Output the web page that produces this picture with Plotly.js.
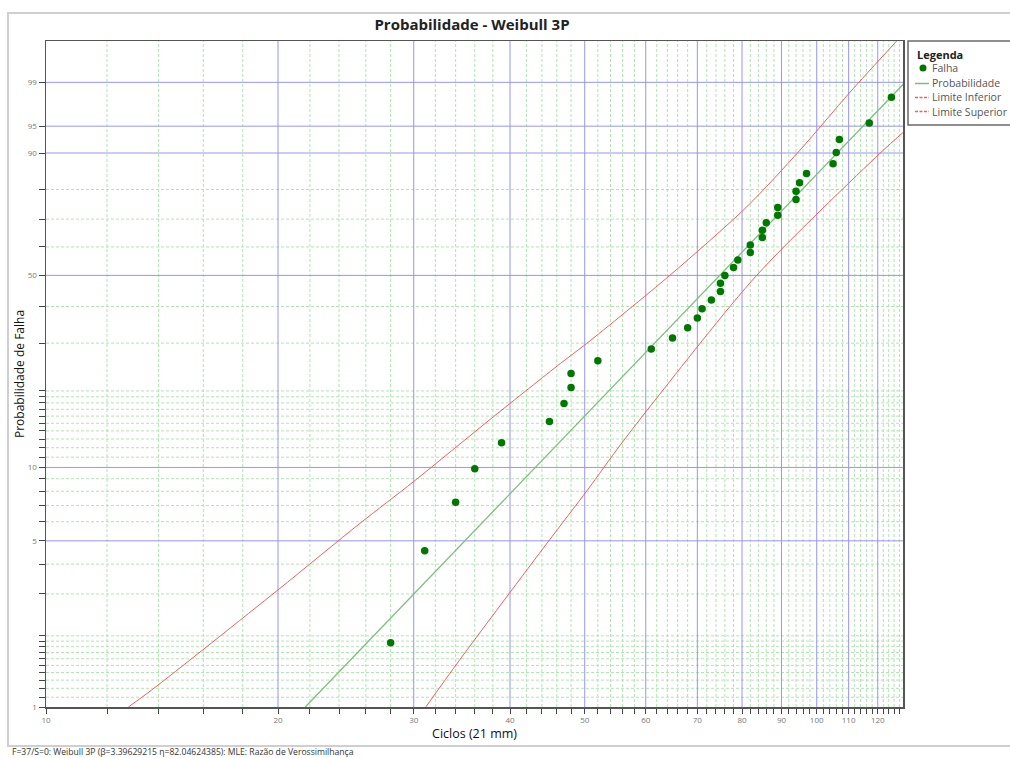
<!DOCTYPE html>
<html>
<head>
<meta charset="utf-8">
<script src="https://cdn.plot.ly/plotly-3.0.1.min.js"></script>
<style>
html,body{margin:0;padding:0;background:#fff;}
#chart{width:1010px;height:758px;}
</style>
</head>
<body>
<div id="chart"></div>
<script>
// ---- data ----
const cycles = [28,31,34,36,39,45,47,48,48,52,61,65,68,70,71,73,75,75,76,78,79,82,82,85,85,86,89,89,94,94,95,97,105,106,107,117,125];
const failProb = [1.87,4.55,7.22,9.89,12.57,15.24,17.91,20.59,23.26,25.94,28.61,31.28,33.96,36.63,39.31,41.98,44.65,47.33,50.00,52.67,55.35,58.02,60.70,63.37,66.04,68.72,71.39,74.06,76.74,79.41,82.09,84.76,87.43,90.11,92.78,95.45,98.13];

const fitCycles = [21.7, 130.2];
const fitProb = [1.0, 99.0];

const lowerCycles = [31.1, 34.4, 44.7, 50.4, 55.6, 61.7, 83.6, 120.8, 130.2];
const lowerProb = [1.0, 1.58, 4.90, 8.09, 12.30, 18.45, 50.05, 89.93, 94.3];

const upperCycles = [12.79, 13.71, 20.0, 25.55, 29.97, 38.06, 46.5, 50.3, 64.5, 81.1, 95.1, 110.5, 127.0];
const upperProb = [1.0, 1.18, 3.12, 5.91, 8.75, 15.90, 25.34, 29.93, 50.05, 74.25, 90.61, 98.48, 99.9];

const xTickVals = [10,20,30,40,50,60,70,80,90,100,110,120];
const xTickText = ['10','20','30','40','50','60','70','80','90','100','110','120'];
const xMinorVals = [12,14,16,18,22,24,26,28,32,34,36,38,42,44,46,48,52,54,56,58,62,64,66,68,72,74,76,78,82,84,86,88,92,94,96,98,102,104,106,108,112,114,116,118,122,124,126,128];

const yTickPct = [1,5,10,50,90,95,99];
const yTickText = ['1','5','10','50','90','95','99'];
const yMinorPct = [1.1,1.2,1.3,1.4,1.5,1.6,1.7,1.8,1.9,2,3,4,6,7,8,9,11,12,13,14,15,16,17,18,19,20,30,40,60,70,80];

const legendNames = ['Falha','Probabilidade','Limite Inferior','Limite Superior'];
const chartTitle = 'Probabilidade - Weibull 3P';
const xTitle = 'Ciclos (21 mm)';
const yTitle = 'Probabilidade de Falha';
const statusText = 'F=37/S=0: Weibull 3P (β=3.39629215 η=82.04624385): MLE: Razão de Verossimilhança';

// ---- Weibull probability scale ----
const weib = p => Math.log(-Math.log(1 - p/100));

// plot area in pixels
const L = 46, R = 903, T = 41, B = 707;
const px = x => (x - L) / (R - L);
const py = y => (B - y) / (B - T);

const blueGrid = 'rgb(150,150,240)';
const greenGrid = 'rgb(178,228,178)';
const redLine = 'rgb(238,95,95)';
const greenLine = 'rgb(125,190,125)';
const dotGreen = 'rgb(0,120,0)';

const traces = [
  {x: upperCycles, y: upperProb.map(weib), mode:'lines', line:{color:redLine, width:1, shape:'spline', smoothing:0.8}, name:legendNames[3], hoverinfo:'skip'},
  {x: lowerCycles, y: lowerProb.map(weib), mode:'lines', line:{color:redLine, width:1, shape:'spline', smoothing:0.8}, name:legendNames[2], hoverinfo:'skip'},
  {x: fitCycles, y: fitProb.map(weib), mode:'lines', line:{color:greenLine, width:1.3}, name:legendNames[1]},
  {x: cycles, y: failProb.map(weib), mode:'markers', marker:{color:dotGreen, size:7.5}, name:legendNames[0]}
];

const shapes = [];
// minor grid (green dashed) first, then major (blue)
xMinorVals.forEach(v => shapes.push({type:'line', layer:'below', xref:'x', yref:'paper', x0:v, x1:v, y0:0, y1:1, line:{color:greenGrid, width:1, dash:'3px,2px'}}));
yMinorPct.forEach(p => shapes.push({type:'line', layer:'below', xref:'paper', yref:'y', x0:0, x1:1, y0:weib(p), y1:weib(p), line:{color:greenGrid, width:1, dash:'3px,2px'}}));
xTickVals.slice(1).forEach(v => shapes.push({type:'line', layer:'below', xref:'x', yref:'paper', x0:v, x1:v, y0:0, y1:1, line:{color:blueGrid, width:1}}));
yTickPct.slice(1).forEach(p => shapes.push({type:'line', layer:'below', xref:'paper', yref:'y', x0:0, x1:1, y0:weib(p), y1:weib(p), line:{color:blueGrid, width:1}}));

// frame and legend
shapes.push(
  {type:'rect', xref:'paper', yref:'paper', x0:px(8), x1:px(1020), y0:py(746), y1:py(13), line:{color:'#cfcfcf', width:2}, fillcolor:'rgba(0,0,0,0)'},
  {type:'rect', xref:'paper', yref:'paper', x0:px(908), x1:px(1020), y0:py(125), y1:py(41), line:{color:'#6a6a6a', width:1.5}, fillcolor:'rgba(0,0,0,0)'},
  {type:'circle', xref:'paper', yref:'paper', x0:px(919.5), x1:px(926.5), y0:py(71.5), y1:py(64.5), line:{color:dotGreen, width:0}, fillcolor:dotGreen},
  {type:'line', xref:'paper', yref:'paper', x0:px(915), x1:px(929), y0:py(83.5), y1:py(83.5), line:{color:greenLine, width:1.5}},
  {type:'line', xref:'paper', yref:'paper', x0:px(915), x1:px(929), y0:py(97.5), y1:py(97.5), line:{color:redLine, width:1.5, dash:'3px,1.5px'}},
  {type:'line', xref:'paper', yref:'paper', x0:px(915), x1:px(929), y0:py(111.5), y1:py(111.5), line:{color:redLine, width:1.5, dash:'3px,1.5px'}}
);

const legFont = {family:'Open Sans', size:10.5, color:'#555'};
const annotations = [
  {xref:'paper', yref:'paper', x:px(915), y:py(55), xanchor:'left', yanchor:'middle', text:'<b>Legenda</b>', showarrow:false, font:{family:'Open Sans', size:11, color:'#222'}},
  {xref:'paper', yref:'paper', x:px(930), y:py(68.5), xanchor:'left', yanchor:'middle', text:legendNames[0], showarrow:false, font:legFont},
  {xref:'paper', yref:'paper', x:px(930), y:py(83), xanchor:'left', yanchor:'middle', text:legendNames[1], showarrow:false, font:legFont},
  {xref:'paper', yref:'paper', x:px(930), y:py(97.5), xanchor:'left', yanchor:'middle', text:legendNames[2], showarrow:false, font:legFont},
  {xref:'paper', yref:'paper', x:px(930), y:py(111.5), xanchor:'left', yanchor:'middle', text:legendNames[3], showarrow:false, font:legFont},
  {xref:'paper', yref:'paper', x:px(10), y:py(752), xanchor:'left', yanchor:'middle', text:statusText, showarrow:false, font:{family:'Open Sans', size:8.6, color:'#333'}}
];

// all tick positions (major labelled, minor blank) so tick marks match
const xAllTicks = xTickVals.concat(xMinorVals);
const xAllText = xTickText.concat(xMinorVals.map(() => ''));
const yAllTicks = yTickPct.concat(yMinorPct).map(weib);
const yAllText = yTickText.concat(yMinorPct.map(() => ''));

const layout = {
  width:1010, height:758,
  margin:{l:L, r:1010-R, t:T, b:758-B, pad:0},
  paper_bgcolor:'#ffffff', plot_bgcolor:'#ffffff',
  showlegend:false,
  title:{text:'<b>'+chartTitle+'</b>', x:px(472), xref:'paper', xanchor:'center', y:1-25/758, yanchor:'middle', font:{family:'Open Sans', size:15, color:'#222'}},
  font:{family:'Open Sans'},
  xaxis:{
    type:'log', range:[1, Math.log10(129.4)],
    tickmode:'array', tickvals:xAllTicks, ticktext:xAllText,
    ticks:'outside', ticklen:5, tickcolor:'#444', tickwidth:1,
    tickfont:{family:'Open Sans', size:8, color:'#777'},
    showgrid:false,
    showline:true, linecolor:'#555', linewidth:1.5, mirror:true,
    zeroline:false,
    title:{text:xTitle, standoff:4, font:{family:'Open Sans', size:12.5, color:'#111'}}
  },
  yaxis:{
    range:[weib(1), weib(99.9)],
    tickmode:'array', tickvals:yAllTicks, ticktext:yAllText,
    ticks:'outside', ticklen:6, tickcolor:'#444', tickwidth:1,
    tickfont:{family:'Open Sans', size:8, color:'#777'},
    showgrid:false,
    showline:true, linecolor:'#555', linewidth:1.5, mirror:true,
    zeroline:false,
    title:{text:yTitle, standoff:0, font:{family:'Open Sans', size:12, color:'#111'}}
  },
  shapes:shapes,
  annotations:annotations
};

Plotly.newPlot('chart', traces, layout, {displayModeBar:false, staticPlot:true});
</script>
</body>
</html>
